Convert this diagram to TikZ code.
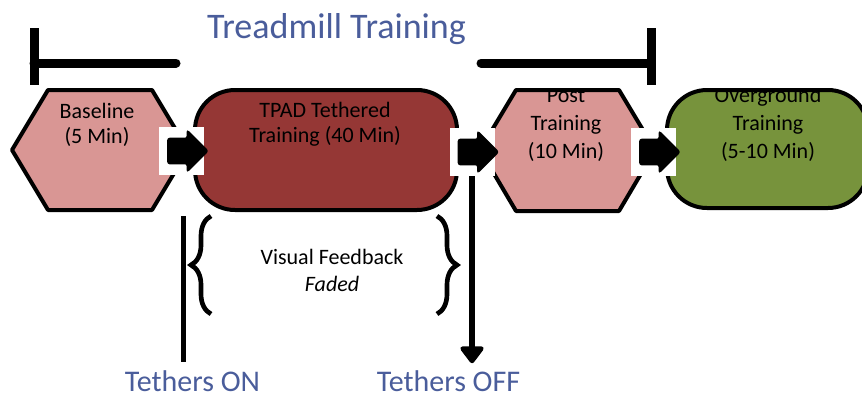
\documentclass[tikz,border=0pt]{standalone}
\usepackage{fontspec}
\setmainfont{Carlito}
\usepackage{xcolor}
\usepackage{tikz}
\usetikzlibrary{arrows.meta,shapes.arrows,decorations.pathreplacing}
\definecolor{titleblue}{HTML}{4A5D9B}
\definecolor{phasepink}{HTML}{D99694}
\definecolor{phasered}{HTML}{953735}
\definecolor{phasegreen}{HTML}{77933C}
\newcommand{\phasefont}{\fontsize{16.5}{18.75}\selectfont}
\newcommand{\phasefontwide}{\fontsize{16.5}{21}\selectfont}
\newcommand{\labelfont}{\fontsize{22.5}{27}\selectfont}

\begin{document}
\begin{tikzpicture}[x=0.75pt, y=-0.75pt]
      \useasboundingbox (0,0) rectangle (862,397);

      \node[anchor=base, inner sep=0pt, text=titleblue, font=\fontsize{27}{32}\selectfont] (title) at (336.5,38) {Treadmill Training};

      \begin{scope}[line width=6.75pt]
          \draw (34,28) -- (34,85);
          \draw[line cap=round] (34,63) -- (176,63);
          \draw[line cap=round] (481,63) -- (651,63);
          \draw (651,28) -- (651,85);
      \end{scope}

      \begin{scope}[draw=black, line width=3pt, line join=round]
          \filldraw[fill=phasepink] (12,150) -- (48,90) -- (152,90) -- (188,150) -- (152,210) -- (48,210) -- cycle;
          \filldraw[fill=phasered, rounded corners=30pt] (195,90) rectangle (457,210);
          \filldraw[fill=phasepink] (480,150) -- (516,90) -- (619,90) -- (655,150) -- (619,211) -- (516,211) -- cycle;
          \filldraw[fill=phasegreen, rounded corners=30pt] (667,90) rectangle (868,208);
      \end{scope}

      \begin{scope}[every node/.style={align=center, inner sep=0pt, anchor=north}]
          \node[font=\phasefont] (base) at (97,103) {Baseline\\(5 Min)};
          \node[font=\phasefont] (tpad) at (325,102) {TPAD Tethered\\Training (40 Min)};
          \begin{scope}
              \clip (470,92) rectangle (862,397);
              \node[font=\phasefontwide] (post) at (566,88) {Post\\Training\\(10 Min)};
              \node[font=\phasefontwide] (over) at (768,87) {Overground\\Training\\(5-10 Min)};
          \end{scope}
          \node[font=\fontsize{16.5}{20.25}\selectfont] (visual) at (332,249) {Visual Feedback\\\textit{Faded}};
      \end{scope}

      \begin{scope}[every node/.style={fill=white, minimum width=33.75pt, minimum height=36pt, inner sep=0pt}]
          \node (gap1) at (181.5,151) {};
          \node (gap2) at (472,152) {};
          \node (gap3) at (653.5,152) {};
      \end{scope}

      \begin{scope}[every node/.style={single arrow, fill=black, draw=black, line width=1pt,
                    rounded corners=1.5pt, minimum height=30pt, single arrow head extend=6pt,
                    inner xsep=4pt, inner ysep=9pt}]
          \node (push1) at (gap1) {};
          \node (push2) at (gap2) {};
          \node (push3) at (gap3) {};
      \end{scope}

      \begin{scope}[every node/.style={anchor=base, inner sep=0pt, text=titleblue, font=\labelfont}]
          \node (tetherson) at (192.5,391) {Tethers ON};
          \node (tethersoff) at (448.5,391) {Tethers OFF};
      \end{scope}

      \coordinate (ontop) at (183,216);
      \draw[line width=3.75pt, shorten >=6pt] (ontop) -- (ontop |- tetherson.north);
      \draw[-{Triangle[width=20pt, length=14pt, round]}, line width=4.5pt, shorten >=5pt]
          (gap2.south) -- (gap2.south |- tethersoff.north);

      \begin{scope}[line width=3.5pt, decoration={brace, amplitude=15pt}]
          \draw[decorate] (211,314) -- (211,216);
          \draw[decorate] (437,216) -- (437,314);
      \end{scope}
\end{tikzpicture}
\end{document}
